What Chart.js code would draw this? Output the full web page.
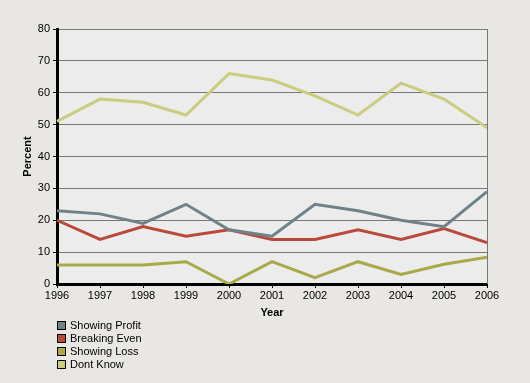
<!DOCTYPE html>
<html>
<head>
<meta charset="utf-8">
<script src="https://cdn.jsdelivr.net/npm/chart.js@4.4.1/dist/chart.umd.min.js"></script>
<style>
  html, body { margin: 0; padding: 0; background: #e9e7e3; }
  #wrap { position: relative; width: 530px; height: 383px; }
  #legend { position: absolute; left: 57px; top: 319px; font: 11px "Liberation Sans", Arial, sans-serif; color: #000; }
  #legend div { height: 13px; line-height: 13px; display: flex; align-items: center; }
  #legend span.box { width: 7px; height: 7px; border: 1px solid #000; margin-right: 4px; display: inline-block; }
</style>
</head>
<body>
<div id="wrap">
  <canvas id="chart" width="530" height="383"></canvas>
  <div id="legend"></div>
</div>
<script>
// 데이터
const years = ["1996", "1997", "1998", "1999", "2000", "2001", "2002", "2003", "2004", "2005", "2006"];
const showingProfit = [23, 22, 19, 25, 17, 15, 25, 23, 20, 18, 29];
const breakingEven = [20, 14, 18, 15, 17, 14, 14, 17, 14, 17.4, 13];
const showingLoss = [6, 6, 6, 7, 0, 7, 2, 7, 3, 6.2, 8.4];
const dontKnow = [51, 58, 57, 53, 66, 64, 59, 53, 63, 58, 49];

const seriesNames = ["Showing Profit", "Breaking Even", "Showing Loss", "Dont Know"];
const seriesColors = ["#6f828a", "#b94a3a", "#a9a94a", "#cccc80"];
const seriesData = [showingProfit, breakingEven, showingLoss, dontKnow];

const font = { family: "'Liberation Sans', Arial, sans-serif", size: 11 };
const boldFont = { family: "'Liberation Sans', Arial, sans-serif", size: 11, weight: "bold" };

// 플롯 영역 배경 + 오른쪽 테두리
const plotBg = {
  id: "plotBg",
  beforeDraw(chart) {
    const { ctx, chartArea: a } = chart;
    ctx.save();
    ctx.fillStyle = "#ececec";
    ctx.fillRect(a.left, a.top, a.right - a.left, a.bottom - a.top);
    ctx.restore();
  },
  afterDraw(chart) {
    const { ctx, chartArea: a } = chart;
    ctx.save();
    ctx.strokeStyle = "#777";
    ctx.lineWidth = 1;
    ctx.beginPath();
    ctx.moveTo(Math.round(a.right) + 0.5, a.top);
    ctx.lineTo(Math.round(a.right) + 0.5, a.bottom);
    ctx.stroke();
    ctx.restore();
  },
};

const chart = new Chart(document.getElementById("chart"), {
  type: "line",
  data: {
    labels: years,
    datasets: seriesNames.map((name, i) => ({
      label: name,
      data: seriesData[i],
      borderColor: seriesColors[i],
      backgroundColor: seriesColors[i],
      borderWidth: 3,
      pointRadius: 0,
      tension: 0,
      fill: false,
    })),
  },
  options: {
    responsive: false,
    animation: false,
    layout: { padding: { left: 0, top: 29, right: 43, bottom: 59 } },
    plugins: { legend: { display: false }, tooltip: { enabled: false } },
    scales: {
      x: {
        offset: false,
        afterFit: (s) => { s.height = 40; },
        grid: { drawOnChartArea: false, tickLength: 4, tickColor: "#000", tickWidth: 1 },
        border: { color: "#000", width: 3 },
        ticks: { color: "#000", font: font, padding: 1, maxRotation: 0, autoSkip: false },
        title: { display: true, text: "Year", color: "#000", font: boldFont, padding: { top: 0, bottom: 4 } },
      },
      y: {
        min: 0,
        max: 80,
        afterFit: (s) => { s.width = 57; },
        grid: { color: "#777", lineWidth: 1, tickLength: 4, tickColor: "#000" },
        border: { color: "#000", width: 3 },
        ticks: { stepSize: 10, color: "#000", font: font, padding: 3 },
        title: { display: true, text: "Percent", color: "#000", font: boldFont, padding: { top: 21, bottom: 0 } },
      },
    },
  },
  plugins: [plotBg],
});

// 범례 (세로 목록)
const legend = document.getElementById("legend");
chart.data.datasets.forEach((ds) => {
  const row = document.createElement("div");
  const box = document.createElement("span");
  box.className = "box";
  box.style.background = ds.borderColor;
  row.appendChild(box);
  row.appendChild(document.createTextNode(ds.label));
  legend.appendChild(row);
});
</script>
</body>
</html>
